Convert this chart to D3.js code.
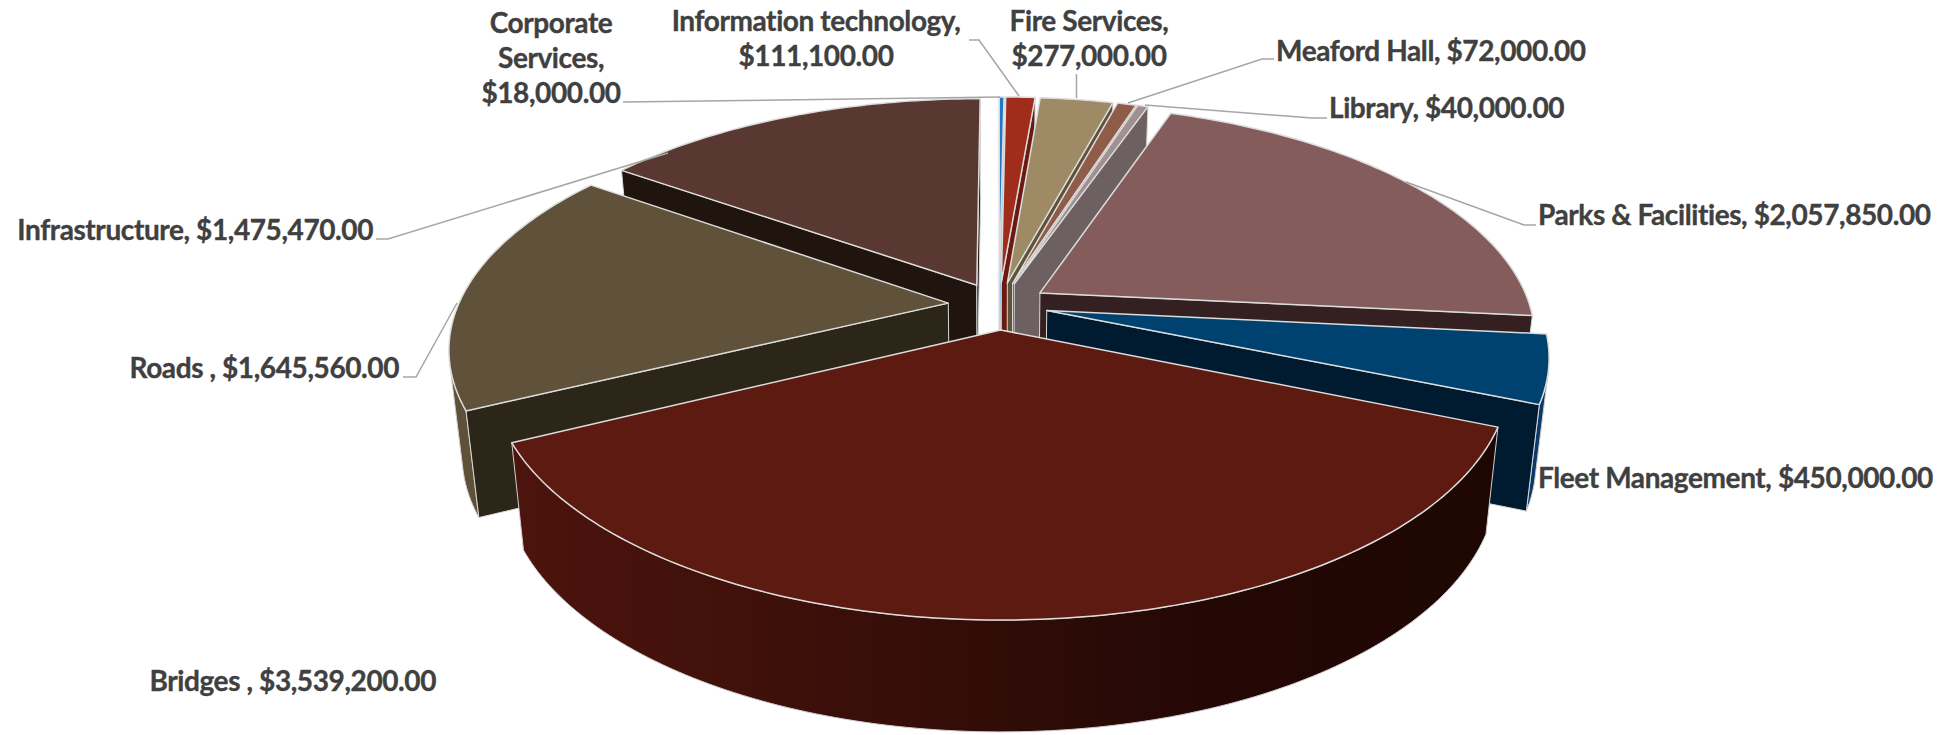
<!DOCTYPE html>
<html>
<head>
<meta charset="utf-8">
<script src="https://cdn.jsdelivr.net/npm/d3@7"></script>
<style>
  html, body { margin: 0; padding: 0; background: #fff; }
  svg { display: block; }
  text { font-family: Lato, "Open Sans", sans-serif; font-weight: 700; fill: #404040; font-size: 28px; letter-spacing: -0.4px; stroke: #404040; stroke-width: 0.35px; }
</style>
</head>
<body>
<svg id="chart" width="1947" height="735"></svg>
<script>
// Capital budget by department, clockwise from twelve o'clock.
const categories = ["Corporate Services", "Information technology", "Fire Services", "Meaford Hall", "Library",
                    "Parks & Facilities", "Fleet Management", "Bridges ", "Roads ", "Infrastructure"];
const values = [18000, 111100, 277000, 72000, 40000, 2057850, 450000, 3539200, 1645560, 1475470];

const topColours    = ["#1f78c4", "#a02c1c", "#9e8a64", "#905c4a", "#a09091", "#845c5c", "#00426f", "#5c1a10", "#60523a", "#583830"];
const radialColours = ["#8cc0e8", "#6a1a10", "#5e5238", "#5c3a30", "#6c6160", "#342020", "#001b30", "#2a0c08", "#2c2618", "#20140e"];
const outerColours  = ["#1f78c4", "#6a1a10", "#5e5238", "#5c3a30", "#6c6160", "#4a2f2f", "#0c3a66", "url(#bridgeWall)", "#5e5138", "#3a241e"];

// Pull-out distance of each slice, as a share of the radius.
const explodeShares = [0.1, 0.1, 0.1, 0.1, 0.1, 0.1, 0.1, 0.108, 0.104, 0.1];

// Later entries are painted over earlier ones.
const paintOrder = [0, 1, 2, 3, 4, 9, 8, 5, 6, 7];

// Each label: line breaks, text anchor, x and first baseline, then the leader polyline.
const labelLayout = [
  { lines: d => ["Corporate", "Services,", d.money], anchor: "middle", x: 551, y: 33, leader: [[623, 102], [1000, 97]] },
  { lines: d => [d.name + ",", d.money], anchor: "middle", x: 816, y: 31, leader: [[969, 40], [979, 40], [1019, 96]] },
  { lines: d => [d.name + ",", d.money], anchor: "middle", x: 1089, y: 31, leader: [[1076.5, 74], [1076.5, 98]] },
  { lines: d => [d.name + ", " + d.money], anchor: "start", x: 1276, y: 61, leader: [[1274, 59], [1262, 59], [1128, 103]] },
  { lines: d => [d.name + ", " + d.money], anchor: "start", x: 1329, y: 118, leader: [[1327, 118], [1312, 118], [1145, 105]] },
  { lines: d => [d.name + ", " + d.money], anchor: "start", x: 1538, y: 225, leader: [[1536, 225], [1524, 225], [1406, 182]] },
  { lines: d => [d.name + ", " + d.money], anchor: "start", x: 1538, y: 488, leader: [] },
  { lines: d => [d.name + ", " + d.money], anchor: "end", x: 436, y: 691, leader: [] },
  { lines: d => [d.name + ", " + d.money], anchor: "end", x: 399, y: 378, leader: [[403, 377], [416, 377], [457, 303]] },
  { lines: d => [d.name + ", " + d.money], anchor: "end", x: 373, y: 240, leader: [[376, 239], [388, 239], [668, 153]] }
];

// Camera: a tilted disc seen in perspective, with an extruded underside.
const centre = [999, 305];
const radiusX = 490, radiusY = 227, perspective = 0.182;
const bottomShrink = 0.976, bottomStretch = 1.025, thickness = 104;

const svg = d3.select("#chart");
const money = d3.format("$,.2f");

const defs = svg.append("defs");
const grad = defs.append("linearGradient").attr("id", "bridgeWall")
  .attr("gradientUnits", "userSpaceOnUse").attr("x1", 513).attr("x2", 1494).attr("y1", 0).attr("y2", 0);
[[0, "#4c140d"], [0.35, "#3a0f09"], [0.7, "#240805"], [1, "#1e0703"]].forEach(([o, c]) =>
  grad.append("stop").attr("offset", o).attr("stop-color", c));

function project(x, y, lower) {
  const w = 1 - perspective * y;
  const sx = radiusX * x / w, sy = radiusY * y / w;
  return lower
    ? [centre[0] + sx * bottomShrink, centre[1] + sy * bottomStretch + thickness]
    : [centre[0] + sx, centre[1] + sy];
}

const pie = d3.pie().sort(null).startAngle(0).endAngle(2 * Math.PI);
const arcs = pie(values);
const path = d3.line();

function sliceGeometry(a, explode) {
  const mid = (a.startAngle + a.endAngle) / 2;
  const ox = explode * Math.sin(mid), oy = -explode * Math.cos(mid);
  const steps = Math.max(2, Math.ceil((a.endAngle - a.startAngle) * 180 / Math.PI));
  const rim = d3.range(steps + 1).map(i => {
    const t = a.startAngle + (a.endAngle - a.startAngle) * i / steps;
    return [ox + Math.sin(t), oy - Math.cos(t)];
  });
  return { apex: [ox, oy], rim };
}

// Wall faces toward the viewer when the top edge runs right to left on screen.
function faces(p, q) {
  const a = project(p[0], p[1]), b = project(q[0], q[1]), c = project(p[0], p[1], true);
  return (b[0] - a[0]) * (c[1] - a[1]) - (b[1] - a[1]) * (c[0] - a[0]) < 0;
}

function wallPolygon(points) {
  return [...points.map(p => project(p[0], p[1])), ...points.slice().reverse().map(p => project(p[0], p[1], true))];
}

const pieGroup = svg.append("g");

paintOrder.forEach(i => {
  const g = pieGroup.append("g");
  const { apex, rim } = sliceGeometry(arcs[i], explodeShares[i]);

  // Outer curved wall: only the runs of the rim that face the viewer.
  let run = [];
  const flush = () => {
    if (run.length > 1) {
      g.append("path").attr("d", path(wallPolygon(run)) + "Z")
        .attr("fill", outerColours[i]).attr("stroke", "#cfcfcf").attr("stroke-width", 1);
    }
    run = [];
  };
  for (let k = 0; k < rim.length - 1; k++) {
    if (faces(rim[k], rim[k + 1])) {
      if (!run.length) run.push(rim[k]);
      run.push(rim[k + 1]);
    } else flush();
  }
  flush();

  // Flat cut faces of the exploded slice.
  [[apex, rim[0]], [rim[rim.length - 1], apex]].forEach(([p, q]) => {
    if (faces(p, q)) {
      g.append("path").attr("d", path(wallPolygon([p, q])) + "Z")
        .attr("fill", radialColours[i]).attr("stroke", "#d9d9d9").attr("stroke-width", 1);
    }
  });

  // Top face.
  const top = [apex, ...rim].map(p => project(p[0], p[1]));
  g.append("path").attr("d", path(top) + "Z")
    .attr("fill", topColours[i]).attr("stroke", "#dcdcdc").attr("stroke-width", 1.5)
    .attr("stroke-linejoin", "round");
});

// Leader lines.
const leaders = svg.append("g").attr("fill", "none").attr("stroke", "#a6a6a6").attr("stroke-width", 1.5);
labelLayout.forEach(l => {
  if (l.leader.length) leaders.append("path").attr("d", path(l.leader));
});

// Data labels.
const labels = svg.append("g");
labelLayout.forEach((l, i) => {
  const t = labels.append("text").attr("text-anchor", l.anchor);
  l.lines({ name: categories[i], money: money(values[i]) }).forEach((line, n) => {
    t.append("tspan").attr("x", l.x).attr("y", l.y + n * 35).text(line);
  });
});
</script>
</body>
</html>
